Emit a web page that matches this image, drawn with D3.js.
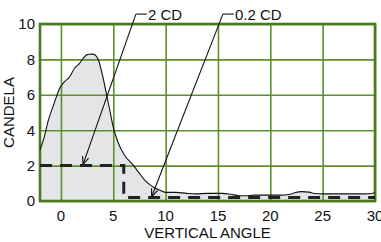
<!DOCTYPE html>
<html><head><meta charset="utf-8">
<script src="https://cdn.jsdelivr.net/npm/d3@7"></script>
<style>
html,body{margin:0;padding:0;background:#fff;}
text{font-family:"Liberation Sans",Arial,Helvetica,sans-serif;}
</style></head>
<body><svg id="c" width="381" height="242"></svg>
<script>
const angles = [-2, -1.6, -1.24, -0.6, -0.12, 0.35, 0.83, 1.3, 1.78, 2.25, 2.5, 2.73, 3.0, 3.27, 3.58, 4.0, 4.3, 4.63, 4.95, 5.43, 6.06, 6.9, 7.5, 8.14, 8.77, 9.4, 10.0, 11.0, 12.0, 12.9, 14.0, 15.4, 16.2, 17.0, 17.6, 18.5, 20, 21, 22, 22.4, 23, 23.7, 24.2, 25, 27, 29, 29.7, 30];
const candela = [2.9, 3.6, 4.48, 5.6, 6.37, 6.74, 7.02, 7.5, 7.78, 8.15, 8.27, 8.29, 8.3, 8.25, 7.97, 7.02, 6.18, 5.24, 4.29, 3.35, 2.6, 2.03, 1.56, 1.09, 0.81, 0.62, 0.49, 0.49, 0.43, 0.40, 0.43, 0.43, 0.38, 0.3, 0.3, 0.33, 0.33, 0.33, 0.4, 0.48, 0.53, 0.5, 0.42, 0.4, 0.4, 0.4, 0.42, 0.5];
const limitAngles = [-2, 6, 6, 30];
const limitValues = [2, 2, 0.2, 0.2];
const xTicks = [0, 5, 10, 15, 20, 25, 30];
const yTicks = [0, 2, 4, 6, 8, 10];
const annLabels = ["2 CD", "0.2 CD"];
const annTipAngle = [2.13, 8.69];
const annTipValue = [2.1, 0.28];
const annTopAngle = [7.16, 15.47];
const annTopValue = [10.56, 10.56];

const svg = d3.select("#c");
const x = d3.scaleLinear().domain([-2, 30]).range([40, 375]);
const y = d3.scaleLinear().domain([0, 10]).range([201, 24]);
const data = angles.map((a, i) => ({a, v: candela[i]}));

svg.append("defs").append("marker").attr("id","arr")
  .attr("viewBox","0 0 10 10").attr("refX",9).attr("refY",5)
  .attr("markerWidth",8).attr("markerHeight",8).attr("orient","auto")
  .attr("markerUnits","userSpaceOnUse")
  .append("path").attr("d","M0,1 L10,5 L0,9").attr("fill","none").attr("stroke","#111").attr("stroke-width",1.4);

// fill
svg.append("path").datum(data)
  .attr("d", d3.area().x(d => x(d.a)).y0(y(0)).y1(d => y(d.v)).curve(d3.curveMonotoneX))
  .attr("fill", "#e4e5e7");

// grid
const gx = svg.append("g").attr("transform", `translate(0,${y(0)})`)
  .call(d3.axisBottom(x).tickValues(xTicks).tickSize(-(y(0) - y(10))).tickFormat(""));
const gy = svg.append("g").attr("transform", `translate(${x(-2)},0)`)
  .call(d3.axisLeft(y).tickValues(yTicks).tickSize(-(x(30) - x(-2))).tickFormat(""));
[gx, gy].forEach(g => { g.select(".domain").remove(); g.selectAll("line").attr("stroke", "#5e8e2e").attr("stroke-width", 1.6); });

// border
svg.append("rect").attr("x", x(-2)).attr("y", y(10)).attr("width", x(30) - x(-2)).attr("height", y(0) - y(10))
  .attr("fill", "none").attr("stroke", "#4b7a1e").attr("stroke-width", 2.6);

// curve
svg.append("path").datum(data)
  .attr("d", d3.line().x(d => x(d.a)).y(d => y(d.v)).curve(d3.curveMonotoneX))
  .attr("fill", "none").attr("stroke", "#111").attr("stroke-width", 1.1);

// dashed limit
svg.append("path").datum(limitAngles.map((a, i) => ({a, v: limitValues[i]})))
  .attr("d", d3.line().x(d => x(d.a)).y(d => y(d.v)))
  .attr("fill", "none").attr("stroke", "#222").attr("stroke-width", 3).attr("stroke-dasharray", "12,8");

// annotations
annLabels.forEach((lab, i) => {
  const tx = x(annTopAngle[i]), ty = y(annTopValue[i]);
  svg.append("line").attr("x1", tx).attr("y1", ty).attr("x2", x(annTipAngle[i])).attr("y2", y(annTipValue[i]))
    .attr("stroke", "#111").attr("stroke-width", 1.1).attr("marker-end", "url(#arr)");
  svg.append("line").attr("x1", tx).attr("y1", ty).attr("x2", tx + 11).attr("y2", ty)
    .attr("stroke", "#111").attr("stroke-width", 1.1);
  svg.append("text").attr("x", tx + 12).attr("y", ty + 5.5).attr("font-size", 15).attr("fill", "#111").text(lab);
});

// tick labels
svg.append("g").selectAll("text").data(xTicks).join("text")
  .attr("x", d => x(d)).attr("y", 220.5).attr("text-anchor", "middle").attr("font-size", 15).attr("fill", "#111").text(d => d);
svg.append("g").selectAll("text").data(yTicks).join("text")
  .attr("x", 35).attr("y", d => y(d) + 5.4).attr("text-anchor", "end").attr("font-size", 15).attr("fill", "#111").text(d => d);

svg.append("text").attr("x", (x(-2) + x(30)) / 2).attr("y", 237.5).attr("text-anchor", "middle")
  .attr("font-size", 15).attr("fill", "#111").text("VERTICAL ANGLE");
svg.append("text").attr("transform", `translate(13.5,${(y(0) + y(10)) / 2}) rotate(-90)`).attr("text-anchor", "middle")
  .attr("font-size", 15).attr("fill", "#111").text("CANDELA");
</script></body></html>
